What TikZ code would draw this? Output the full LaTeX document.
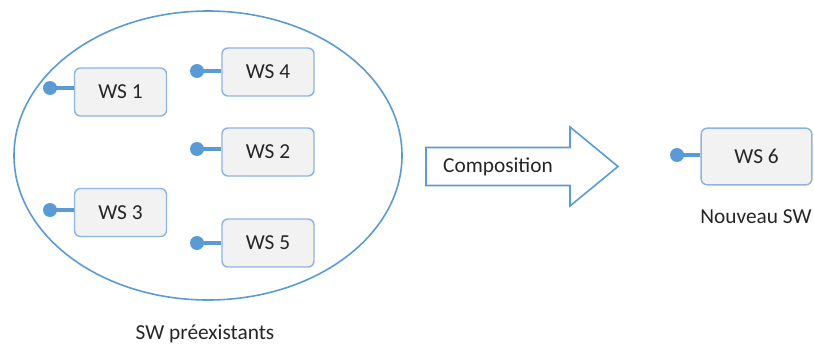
\documentclass[tikz,border=0pt]{standalone}
\usepackage{fontspec}
\setmainfont{Carlito}
\usetikzlibrary{calc}
\definecolor{bluel}{HTML}{5B9BD5}
\definecolor{boxline}{HTML}{8DB4E2}
\definecolor{boxfill}{HTML}{F2F2F2}
\definecolor{txt}{HTML}{262626}
\begin{document}
\begin{tikzpicture}[x=0.75pt,y=-0.75pt,
  font=\fontsize{16}{19}\selectfont, text=txt,
  wsbox/.style={draw=boxline, fill=boxfill, line width=1.1pt, rounded corners=4.5pt,
    minimum width=69pt, minimum height=36pt, inner sep=0pt},
  dotn/.style={circle, fill=bluel, inner sep=0pt, minimum size=10.5pt},
  stem/.style={draw=bluel, line width=3pt},
  lbl/.style={inner sep=0pt}]
\useasboundingbox (0,0) rectangle (814,346);
% pool ellipse
\draw[bluel, line width=1.2pt] (208,155.5) ellipse [x radius=194, y radius=144.5];
% boxes
\node[wsbox] (ws1) at (120.5,92) {WS 1};
\node[wsbox] (ws4) at (268,72) {WS 4};
\node[wsbox] (ws2) at (268,152) {WS 2};
\node[wsbox] (ws3) at (120.5,212.5) {WS 3};
\node[wsbox] (ws5) at (268,243) {WS 5};
\node[wsbox, minimum width=83pt, minimum height=42.5pt] (ws6) at (756.5,156.5) {WS 6};
% lollipops
\node[dotn] (p1) at (50,88) {};
\node[dotn] (p4) at (197,71) {};
\node[dotn] (p2) at (197,149) {};
\node[dotn] (p3) at (50,210) {};
\node[dotn] (p5) at (197,243) {};
\node[dotn] (p6) at (677,155) {};
\foreach \p/\w in {p1/ws1,p4/ws4,p2/ws2,p3/ws3,p5/ws5,p6/ws6}{
  \draw[stem] (\p.center) -- (\w.west |- \p.center);
}
% composition arrow
\draw[bluel, line width=1.2pt, fill=white, line join=miter]
  (426,147.5) -- (570,147.5) -- (570,127) -- (618,166.5) -- (570,206) -- (570,185.5) -- (426,185.5) -- cycle;
\node[lbl] (comp) at (498,166.5) {Composition};
% labels
\node[lbl] (pre) at (205,334) {SW préexistants};
\node[lbl] (nouv) at (756,217) {Nouveau SW};
\end{tikzpicture}
\end{document}
